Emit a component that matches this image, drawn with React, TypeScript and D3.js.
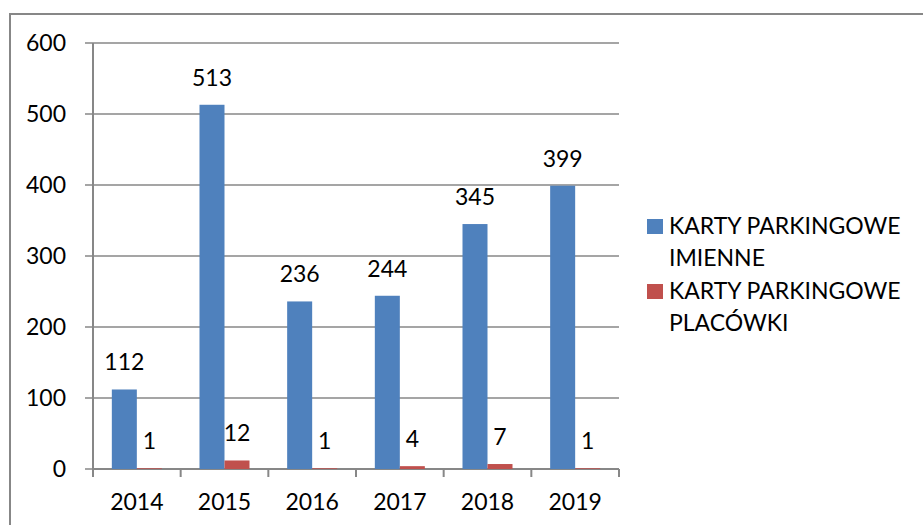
import React from 'react';
import * as d3 from 'd3';

const years = ['2014', '2015', '2016', '2017', '2018', '2019'];
const imienne = [112, 513, 236, 244, 345, 399];
const placowki = [1, 12, 1, 4, 7, 1];
const seriesKeys = ['imienne', 'placowki'];
const legendLines = [
  ['KARTY PARKINGOWE', 'IMIENNE'],
  ['KARTY PARKINGOWE', 'PLACÓWKI'],
];
const yTicks = [0, 100, 200, 300, 400, 500, 600];

const colors = ['#4F81BD', '#C0504D'];
const gridColor = '#878787';
const font = 'Lato, "Open Sans", sans-serif';
const fontSize = 23;

export default function App() {
  const width = 923;
  const height = 525;
  const margin = { top: 43, left: 93, right: 304, bottom: 56 };
  const plotRight = width - margin.right;
  const plotBottom = height - margin.bottom;

  const x = d3.scaleBand().domain(years).range([margin.left, plotRight]);
  const xInner = d3
    .scaleBand()
    .domain(seriesKeys)
    .range([0, x.bandwidth()])
    .paddingInner(0)
    .paddingOuter(0.753);
  const y = d3.scaleLinear().domain([0, 600]).range([plotBottom, margin.top]);

  const series = [imienne, placowki];
  const labelGap = 19;

  // boundaries between categories get a small tick below the axis
  const boundaries = years.map((d) => x(d) as number).concat([plotRight]);

  return (
    <svg
      width={width}
      height={height}
      style={{ position: 'absolute', left: 0, top: 0, background: '#fff' }}
      fontFamily={font}
    >
      <rect x={10} y={14} width={width + 10} height={height + 10} fill="#fff" stroke={gridColor} strokeWidth={2} />

      {yTicks.map((t) => (
        <g key={t}>
          <line x1={margin.left - 8} x2={plotRight} y1={y(t)} y2={y(t)} stroke={gridColor} strokeWidth={1.5} />
          <text x={66} y={y(t)} dy="0.36em" textAnchor="end" fontSize={fontSize} fill="#000">
            {t}
          </text>
        </g>
      ))}

      <line x1={margin.left} x2={margin.left} y1={margin.top} y2={plotBottom} stroke={gridColor} strokeWidth={2} />
      <line x1={margin.left} x2={plotRight} y1={plotBottom} y2={plotBottom} stroke={gridColor} strokeWidth={2} />
      {boundaries.map((b, i) => (
        <line key={i} x1={b} x2={b} y1={plotBottom} y2={plotBottom + 8} stroke={gridColor} strokeWidth={2} />
      ))}

      {series.map((vals, s) =>
        vals.map((v, i) => {
          const bx = (x(years[i]) as number) + (xInner(seriesKeys[s]) as number);
          return (
            <g key={s + '-' + i}>
              <rect x={bx} y={y(v)} width={xInner.bandwidth()} height={plotBottom - y(v)} fill={colors[s]} />
              <text
                x={bx + xInner.bandwidth() / 2}
                y={y(v) - labelGap}
                textAnchor="middle"
                fontSize={fontSize}
                fill="#000"
              >
                {v}
              </text>
            </g>
          );
        })
      )}

      {years.map((yr) => (
        <text
          key={yr}
          x={(x(yr) as number) + x.bandwidth() / 2}
          y={510}
          textAnchor="middle"
          fontSize={fontSize}
          fill="#000"
        >
          {yr}
        </text>
      ))}

      {legendLines.map((lines, i) => {
        const top = 219 + i * 65;
        return (
          <g key={i}>
            <rect x={647} y={top} width={16} height={15} fill={colors[i]} />
            {lines.map((ln, j) => (
              <text key={j} x={669} y={top + 15 + j * 32} fontSize={fontSize} fill="#000">
                {ln}
              </text>
            ))}
          </g>
        );
      })}
    </svg>
  );
}
